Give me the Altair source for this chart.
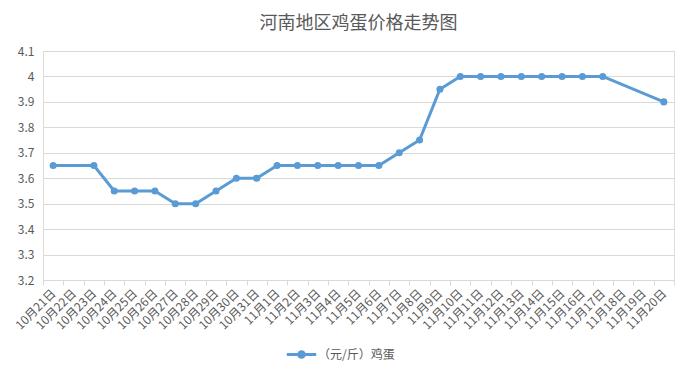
import altair as alt
import pandas as pd

dates = ["10月21日","10月22日","10月23日","10月24日","10月25日","10月26日","10月27日","10月28日",
         "10月29日","10月30日","10月31日","11月1日","11月2日","11月3日","11月4日","11月5日",
         "11月6日","11月7日","11月8日","11月9日","11月10日","11月11日","11月12日","11月13日",
         "11月14日","11月15日","11月16日","11月17日","11月18日","11月19日","11月20日"]
prices = [3.65, None, 3.65, 3.55, 3.55, 3.55, 3.5, 3.5,
          3.55, 3.6, 3.6, 3.65, 3.65, 3.65, 3.65, 3.65,
          3.65, 3.7, 3.75, 3.95, 4.0, 4.0, 4.0, 4.0,
          4.0, 4.0, 4.0, 4.0, None, None, 3.9]
series_name = "（元/斤）鸡蛋"
y_ticks = [3.2, 3.3, 3.4, 3.5, 3.6, 3.7, 3.8, 3.9, 4.0, 4.1]

df = pd.DataFrame({"date": dates, "price": prices, "series": series_name}).dropna()

FONT = "Noto Sans CJK SC"
GREY = "#595959"
BLUE = "#5b9bd5"

x = alt.X("date:N", sort=dates, scale=alt.Scale(domain=dates, type="band", paddingInner=0, paddingOuter=0),
          bandPosition=0.5,
          axis=alt.Axis(title=None, labelAngle=-45, labelAlign="right", labelBaseline="middle",
                        labelFontSize=12, labelColor=GREY, labelFont=FONT, labelPadding=6,
                        tickBand="extent", tickColor="#d9d9d9", tickSize=5, domainColor="#d9d9d9",
                        grid=False, labelOverlap=False))
y = alt.Y("price:Q", scale=alt.Scale(domain=[3.2, 4.1], nice=False, zero=False),
          axis=alt.Axis(title=None, values=y_ticks, format="~g", labelFontSize=12, labelColor=GREY,
                        labelFont=FONT, labelPadding=9, ticks=False, domain=False,
                        gridColor="#d9d9d9", gridWidth=1))
color = alt.Color("series:N", scale=alt.Scale(range=[BLUE]),
                  legend=alt.Legend(title=None, orient="none", legendX=252, legendY=297,
                                    symbolType="M-3.1,0L3.1,0M-0.6,0A0.6,0.6,0,1,0,0.6,0A0.6,0.6,0,1,0,-0.6,0Z",
                                    symbolSize=90, symbolStrokeWidth=3, symbolFillColor=BLUE,
                                    symbolStrokeColor=BLUE, labelFontSize=12, labelColor=GREY,
                                    labelFont=FONT, labelOffset=10))

line = alt.Chart(df).mark_line(strokeWidth=3, interpolate="linear").encode(x=x, y=y, color=color)
pts = alt.Chart(df).mark_circle(size=50, opacity=1).encode(
    x=x, y=y, color=alt.Color("series:N", scale=alt.Scale(range=[BLUE]), legend=None))

chart = alt.layer(line, pts).properties(
    width=631, height=229,
    autosize=alt.AutoSizeParams(type="none"),
    padding={"left": 35, "top": 43, "right": 7, "bottom": 94},
    title=alt.TitleParams("河南地区鸡蛋价格走势图", fontSize=18, font=FONT, color=GREY,
                          fontWeight="normal", offset=12, anchor="middle"),
).configure_view(stroke=None).configure(background="white")

chart.save("out.html", embed_options={"renderer": "svg", "actions": False})
